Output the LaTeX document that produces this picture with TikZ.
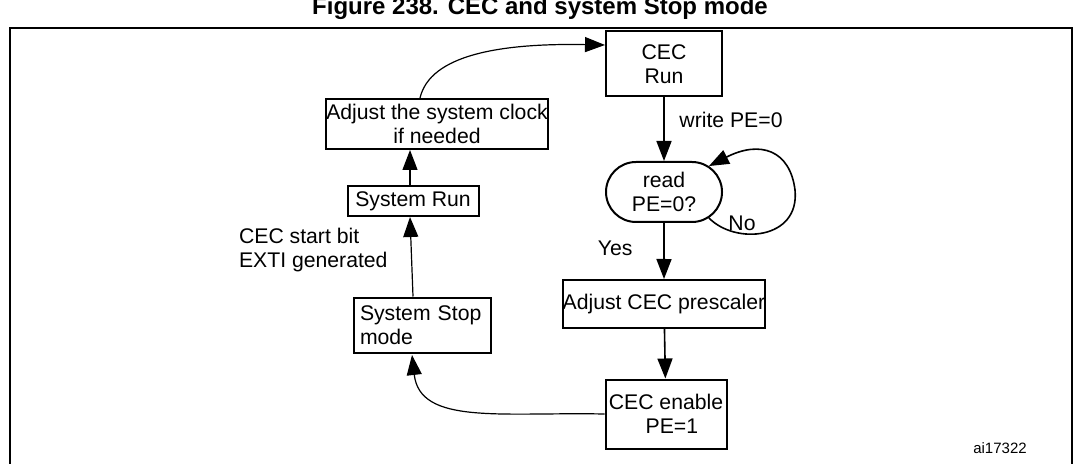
\documentclass[tikz,border=0pt]{standalone}
\usepackage{fontspec}
\setmainfont{Liberation Sans}
\usetikzlibrary{arrows.meta, shapes.misc}

\begin{document}
\begin{tikzpicture}
	[x=0.5pt, y=-0.5pt, font=\fontsize{10.6}{12}\selectfont,
	 StepBox/.style={draw, line width=1pt, inner sep=0pt, align=center},			%Rectangular step
	 FlowArrow/.style={-{Triangle[length=10pt, width=7.5pt]}, line width=0.8pt}
	]
	
	\useasboundingbox (0,0) rectangle (1079,464);
	\clip (0,0) rectangle (1079,464);
	\node[font=\bfseries\fontsize{12}{14}\selectfont] (title) at (540,8) {Figure 238. CEC and system Stop mode};
	\draw[line width=1pt] (10,470) -- (10,28) -- (1072,28) -- (1072,470);		%Frame
	
	\node[StepBox, minimum width=116*0.5pt, minimum height=65*0.5pt] (cecrun) at (664,64) {CEC\\Run};
	\node[draw, line width=1pt, rounded rectangle, minimum width=116*0.5pt, minimum height=60*0.5pt, inner sep=0pt, align=center] (readpe) at (664,192) {read\\PE=0?};
	\node[StepBox, minimum width=198*0.5pt, minimum height=48*0.5pt] (presc) at (664,304) {Adjust CEC prescaler};
	\node[StepBox, minimum width=121*0.5pt, minimum height=69*0.5pt] (enable) at (666,414) {CEC enable\\\ \ PE=1};
	\node[StepBox, minimum width=137*0.5pt, minimum height=55*0.5pt, align=left, text width=124*0.5pt] (stop) at (422,325) {System Stop\\mode};
	\node[StepBox, minimum width=131*0.5pt, minimum height=30*0.5pt] (sysrun) at (413,201) {System Run};
	\node[StepBox, minimum width=222*0.5pt, minimum height=50*0.5pt] (clock) at (437,124) {Adjust the system clock\\if needed};
	
	\draw[FlowArrow] (cecrun) -- (readpe) node[pos=0.35, right=4pt] (wpe) {write PE=0};
	\draw[FlowArrow] (readpe) -- (presc) node[pos=0.45, left=12pt] (yes) {Yes};
	\draw[FlowArrow] (presc) -- (enable);
	\draw[FlowArrow] (readpe.-30) .. controls (735,245) and (800,240) .. (795,190) .. controls (790,150) and (760,140) .. (readpe.30);	%No loop
	\node (no) at (742,223) {No};
	\draw[FlowArrow, line width=0.6pt] (enable.west) .. controls (500,412) and (420,425) .. (412,355);
	\draw[FlowArrow, line width=0.6pt] (stop.north -| sysrun) -- (sysrun.south -| 410,0);
	\draw[FlowArrow, line width=0.6pt] (sysrun.north -| 410,0) -- (clock.south -| 410,0);
	\draw[FlowArrow, line width=0.6pt] (clock.north -| 420,0) .. controls (430,55) and (500,43) .. (cecrun.west |- 0,45);
	\node[align=left, anchor=west] (extilbl) at (232,250) {CEC start bit\\EXTI generated};
	\node[font=\fontsize{7.5}{9}\selectfont] (ref) at (1000,448) {ai17322};
	
\end{tikzpicture}
\end{document}
